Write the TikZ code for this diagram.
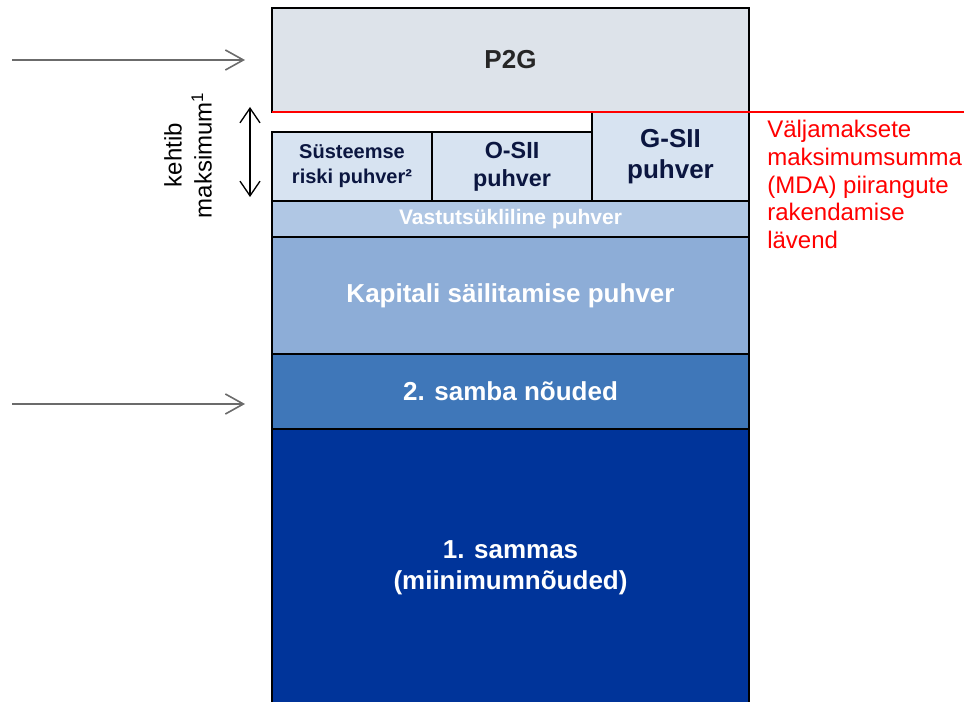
\documentclass[tikz,border=0pt]{standalone}
\usepackage{fontspec}
\setmainfont{Liberation Sans}
\usepackage{xcolor}
\usepackage{tikz}
\usetikzlibrary{arrows.meta, positioning}
\definecolor{CAP_GREY}{HTML}{DDE3EA}
\definecolor{CAP_PALE}{HTML}{D7E3F1}
\definecolor{CAP_LIGHT}{HTML}{B0C7E4}
\definecolor{CAP_MID}{HTML}{8DADD7}
\definecolor{CAP_BLUE}{HTML}{3F77B9}
\definecolor{CAP_DARK}{HTML}{00349A}
\definecolor{CAP_NAVY}{HTML}{0B1640}
\definecolor{CAP_TEXT}{HTML}{262626}
\definecolor{CAP_ARROW}{HTML}{6B6B6B}
\definecolor{CAP_RED}{HTML}{FF0000}
\tikzset{
  layer/.style={
    rectangle, draw=black, line width=1.5pt,
    inner sep=0pt, outer sep=0pt,
    minimum width=357.75pt,
    text centered, align=center, text=white,
    font=\bfseries\fontsize{19.5}{23.5}\selectfont},
  buffer/.style={
    rectangle, draw=black, line width=1.5pt,
    inner sep=0pt, outer sep=0pt, fill=CAP_PALE,
    text centered, align=center, text=CAP_NAVY},
  inarr/.style={-{Straight Barb[length=13.5pt,width=15pt,line width=1.2pt]},
    line width=1.2pt, color=CAP_ARROW},
  span/.style={{Straight Barb[length=11pt,width=15pt]}-{Straight Barb[length=11pt,width=15pt]},
    line width=1pt, color=black},
}

\begin{document}
\begin{tikzpicture}[x=0.75pt, y=-0.75pt]
  \useasboundingbox (0,0) rectangle (964,702);

  % capital stack
  \node[layer, anchor=north west, minimum height=78pt, fill=CAP_GREY, text=CAP_TEXT] (p2g)
    at (272,8) {P2G};

  \node[buffer, anchor=north east, minimum width=117.75pt, minimum height=66.75pt,
    font=\bfseries\fontsize{19.5}{23}\selectfont] (gsii)
    at (p2g.south east) {G-SII\\puhver};

  \node[buffer, anchor=north west, minimum width=120pt, minimum height=51.75pt,
    font=\bfseries\fontsize{15}{18.75}\selectfont] (srb)
    at (272,132) {Süsteemse\\riski puhver²};

  \node[buffer, right=0pt of srb, minimum width=120pt, minimum height=51.75pt,
    font=\bfseries\fontsize{17.5}{21}\selectfont] (osii) {O-SII\\puhver};

  \node[layer, anchor=north west, minimum height=27pt, fill=CAP_LIGHT,
    font=\bfseries\fontsize{15.75}{18}\selectfont] (ccyb)
    at (srb.south west) {Vastutsükliline puhver};

  \node[layer, below=0pt of ccyb, minimum height=87.75pt, fill=CAP_MID] (ccb)
    {Kapitali säilitamise puhver};

  \node[layer, below=0pt of ccb, minimum height=56.25pt, fill=CAP_BLUE] (p2r)
    {2. samba nõuded};

  \node[layer, below=0pt of p2r, minimum height=208.5pt, fill=CAP_DARK] (p1)
    {1. sammas\\(miinimumnõuded)};

  % MDA threshold
  \coordinate (mdaend) at (964,112);
  \draw[CAP_RED, line width=1.5pt] (p2g.south west) -- (mdaend);
  \node[anchor=north west, inner sep=0pt, align=left, text=CAP_RED,
    font=\fontsize{18}{20.8}\selectfont] (mda) at (767,120)
    {Väljamaksete\\maksimumsumma\\(MDA) piirangute\\rakendamise\\lävend};

  % left side
  \coordinate (p2gin) at (12,60);
  \coordinate (p2gtip) at (245,60);
  \coordinate (p2rin) at (12,404);
  \coordinate (p2rtip) at (245,404);
  \draw[inarr] (p2gin) -- (p2gtip);
  \draw[inarr] (p2rin) -- (p2rtip);

  \coordinate (maxtop) at (250,107);
  \coordinate (maxbot) at (250,197);
  \draw[span] (maxtop) -- (maxbot);
  \node[rotate=90, align=center, inner sep=0pt,
    font=\fontsize{18}{22.5}\selectfont] (maxlbl) at (188,155)
    {kehtib\\maksimum\textsuperscript{1}};

\end{tikzpicture}
\end{document}
